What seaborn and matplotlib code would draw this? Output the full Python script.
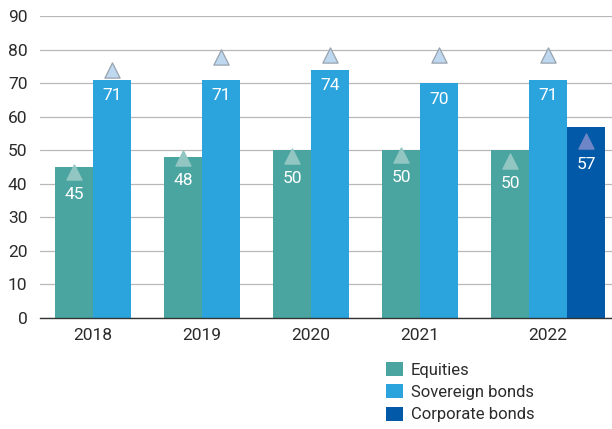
import matplotlib
matplotlib.use('Agg')
import matplotlib.pyplot as plt
import numpy as np
import pandas as pd
import seaborn as sns
from matplotlib.patches import Patch

# data
years = ['2018', '2019', '2020', '2021', '2022']
series_names = ['Equities', 'Sovereign bonds', 'Corporate bonds']
equities = [45, 48, 50, 50, 50]
sovereign = [71, 71, 74, 70, 71]
corporate = [None, None, None, None, 57]
equities_marker = [43.5, 47.7, 48.3, 48.7, 46.8]
sovereign_marker = [73.8, 77.9, 78.5, 78.5, 78.5]
corporate_marker = [None, None, None, None, 52.6]

bar_colors = ['#4aa4a0', '#2ba3dd', '#0159a8']
marker_fill = ['#92c6c2', '#bed8ef', '#6f86c6']
marker_edge = ['#92c6c2', '#98a3ae', '#6f86c6']
text_color = '#2b2b2b'
FONT = ['Roboto', 'DejaVu Sans']
BAR_STEP = 0.35


def build_frame() -> pd.DataFrame:
    """Long table with one row per bar, x position derived from its slot in the group."""
    rows = []
    values = [equities, sovereign, corporate]
    markers = [equities_marker, sovereign_marker, corporate_marker]
    for i, year in enumerate(years):
        slot = 0
        for s, name in enumerate(series_names):
            v = values[s][i]
            if v is None:
                continue
            rows.append({
                'year': year,
                'group': i,
                'series': name,
                'value': v,
                'marker': markers[s][i],
                'pos': i - BAR_STEP / 2 + slot * BAR_STEP,
            })
            slot += 1
    return pd.DataFrame(rows)


def main() -> None:
    sns.set_theme(style='white')
    plt.rcParams['font.family'] = FONT

    df = build_frame()
    palette = dict(zip(series_names, bar_colors))

    fig = plt.figure(figsize=(6.12, 4.29), dpi=100)
    ax = fig.add_axes([40 / 612, 1 - 318 / 429, 1 - 40 / 612, (318 - 16) / 429])

    sns.barplot(
        data=df, x='pos', y='value', hue='series', hue_order=series_names,
        palette=palette, native_scale=True, dodge=False, width=1.0,
        saturation=1, legend=False, ax=ax, zorder=2,
        linewidth=0, edgecolor='none'
    )

    for s, name in enumerate(series_names):
        sub = df[df['series'] == name]
        sns.scatterplot(
            data=sub, x='pos', y='marker', marker='^', s=120,
            color=marker_fill[s], edgecolor=marker_edge[s], linewidth=0.9,
            legend=False, ax=ax, zorder=4
        )

    for _, r in df.iterrows():
        if r['marker'] < r['value']:
            y, off = r['marker'], -16.5
        else:
            y, off = r['value'], -11.5
        ax.annotate(
            f"{r['value']:.0f}", (r['pos'], y), xytext=(0, off),
            textcoords='offset points', ha='center', va='center',
            color='white', fontsize=12.5, zorder=5
        )

    centers = df.groupby('group')['pos'].mean()
    ax.set_xticks(centers.values)
    ax.set_xticklabels(years)
    ax.set_xlim(-0.486, 4.76)
    ax.set_ylim(0, 90)
    ax.set_yticks(range(0, 91, 10))
    ax.set_xlabel('')
    ax.set_ylabel('')

    ax.yaxis.grid(True, color='#b8b8b8', linewidth=0.9, zorder=0)
    ax.set_axisbelow(True)
    for side in ['top', 'right', 'left']:
        ax.spines[side].set_visible(False)
    ax.spines['bottom'].set_color('#333333')
    ax.spines['bottom'].set_linewidth(1.0)
    ax.tick_params(axis='y', length=0, pad=9, labelsize=12.5, labelcolor=text_color)
    ax.tick_params(axis='x', length=0, pad=7, labelsize=12.5, labelcolor=text_color)

    handles = [Patch(facecolor=c, edgecolor='none') for c in bar_colors]
    fig.legend(
        handles, series_names, loc='upper left',
        bbox_to_anchor=(371 / 612, 1 - 347 / 429), frameon=False,
        fontsize=12, handlelength=1.0, handleheight=0.9,
        handletextpad=0.5, labelspacing=0.4, labelcolor=text_color
    )

    fig.savefig('out.png', dpi=100)


if __name__ == '__main__':
    main()
